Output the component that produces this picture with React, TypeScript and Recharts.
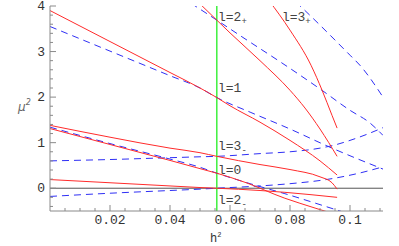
import React from "react";
import { LineChart, Line, XAxis, YAxis, ReferenceLine, ReferenceDot } from "recharts";

// red (solid) curves: h^2 values and mu^2 values
const redL1H = [0, 0.01, 0.02, 0.03, 0.04, 0.05, 0.0556, 0.06, 0.07, 0.08, 0.09, 0.0957];
const redL1Mu = [3.9, 3.56, 3.22, 2.88, 2.54, 2.2, 1.99, 1.81, 1.45, 1.05, 0.6, 0.29];
const redL2pH = [0.049, 0.0556, 0.06, 0.07, 0.08, 0.085, 0.09, 0.0957];
const redL2pMu = [4.11, 3.69, 3.41, 2.8, 2.15, 1.76, 1.3, 0.7];
const redL3pH = [0.073, 0.08, 0.087, 0.0907, 0.094, 0.0957];
const redL3pMu = [4.12, 3.47, 2.7, 2.15, 1.6, 1.32];
const redL3mH = [0, 0.02, 0.04, 0.05, 0.0556, 0.07, 0.08, 0.09, 0.094, 0.0957];
const redL3mMu = [1.38, 1.12, 0.88, 0.78, 0.7, 0.52, 0.41, 0.25, 0.12, -0.02];
const redL0H = [0, 0.02, 0.04, 0.05, 0.0556, 0.065, 0.0783, 0.0833, 0.094];
const redL0Mu = [1.31, 0.96, 0.61, 0.43, 0.33, 0.13, -0.22, -0.33, -0.55];
const redL2mH = [0, 0.02, 0.04, 0.05, 0.0556, 0.07, 0.0783, 0.0957];
const redL2mMu = [0.19, 0.12, 0.05, 0.015, 0.0, -0.05, -0.09, -0.2];

// blue (dashed) curves
const blueL1H = [0, 0.02, 0.04, 0.05, 0.0556, 0.0667, 0.0793, 0.094, 0.111];
const blueL1Mu = [3.55, 3.01, 2.47, 2.2, 1.99, 1.67, 1.32, 0.88, 0.42];
const blueL2pH = [0.047, 0.0556, 0.065, 0.0773, 0.09, 0.1, 0.1067, 0.111];
const blueL2pMu = [4.06, 3.69, 3.28, 2.75, 2.18, 1.71, 1.43, 1.16];
const blueL3pH = [0.082, 0.09, 0.1, 0.1033, 0.111];
const blueL3pMu = [4.09, 3.58, 2.92, 2.7, 2.0];
const blueL3mH = [0, 0.02, 0.04, 0.05, 0.0556, 0.07, 0.08, 0.09, 0.095, 0.1, 0.1055, 0.111];
const blueL3mMu = [0.6, 0.63, 0.67, 0.69, 0.7, 0.76, 0.8, 0.88, 0.95, 1.05, 1.18, 1.33];
const blueL0H = [0, 0.02, 0.04, 0.05, 0.0556, 0.0667, 0.0783, 0.0957, 0.1];
const blueL0Mu = [1.34, 0.98, 0.64, 0.46, 0.33, 0.1, -0.12, -0.48, -0.57];
const blueL2mH = [0, 0.02, 0.04, 0.05, 0.0556, 0.07, 0.0783, 0.0833, 0.09, 0.0957, 0.103, 0.111];
const blueL2mMu = [-0.18, -0.11, -0.05, -0.02, 0.0, 0.05, 0.09, 0.12, 0.17, 0.23, 0.33, 0.47];

const greenH = 0.0556;

// curve labels (baseline-left anchor)
const labelMain = ["l=2", "l=3", "l=1", "l=3", "l=0", "l=2"];
const labelSub = ["+", "+", "", "-", "", "-"];
const labelH = [0.056, 0.0773, 0.056, 0.056, 0.056, 0.056];
const labelMu = [3.67, 3.67, 2.12, 0.84, 0.31, -0.35];

const xMajor = [0.02, 0.04, 0.06, 0.08, 0.1];
const xTicks = [0.005, 0.01, 0.015, 0.02, 0.025, 0.03, 0.035, 0.04, 0.045, 0.05, 0.055, 0.06, 0.065, 0.07, 0.075, 0.08, 0.085, 0.09, 0.095, 0.1, 0.105, 0.11];
const yMajor = [0, 1, 2, 3, 4];
const yTicks = [-0.4, -0.2, 0, 0.2, 0.4, 0.6, 0.8, 1, 1.2, 1.4, 1.6, 1.8, 2, 2.2, 2.4, 2.6, 2.8, 3, 3.2, 3.4, 3.6, 3.8, 4];

const pts = (h: number[], mu: number[]) => h.map((v, i) => ({ h: v, mu: mu[i] }));

const redCurves = [
  pts(redL1H, redL1Mu),
  pts(redL2pH, redL2pMu),
  pts(redL3pH, redL3pMu),
  pts(redL3mH, redL3mMu),
  pts(redL0H, redL0Mu),
  pts(redL2mH, redL2mMu),
];
const blueCurves = [
  pts(blueL1H, blueL1Mu),
  pts(blueL2pH, blueL2pMu),
  pts(blueL3pH, blueL3pMu),
  pts(blueL3mH, blueL3mMu),
  pts(blueL0H, blueL0Mu),
  pts(blueL2mH, blueL2mMu),
];

const FRAME = "#8a8a8a";
const MONO = "'Liberation Mono', 'DejaVu Sans Mono', monospace";
const near = (v: number, list: number[]) => list.some((m) => Math.abs(m - v) < 1e-6);

const BottomTick = (props: any) => {
  const { x, y, payload } = props;
  const major = near(payload.value, xMajor);
  return (
    <g>
      <line x1={x} x2={x} y1={y} y2={y - (major ? 6 : 3)} stroke={FRAME} />
      {major && (
        <text x={x} y={y + 13} textAnchor="middle" fontFamily={MONO} fontSize={13} fill="#333">
          {payload.value === 0.1 ? "0.1" : payload.value.toFixed(2)}
        </text>
      )}
    </g>
  );
};

const TopTick = (props: any) => {
  const { x, y, payload } = props;
  const major = near(payload.value, xMajor);
  return <line x1={x} x2={x} y1={y} y2={y + (major ? 6 : 3)} stroke={FRAME} />;
};

const LeftTick = (props: any) => {
  const { x, y, payload } = props;
  const major = near(payload.value, yMajor);
  return (
    <g>
      <line x1={x} x2={x + (major ? 6 : 3)} y1={y} y2={y} stroke={FRAME} />
      {major && (
        <text x={x - 5} y={y + 4} textAnchor="end" fontFamily={MONO} fontSize={13} fill="#333">
          {String(payload.value)}
        </text>
      )}
    </g>
  );
};

const RightTick = (props: any) => {
  const { x, y, payload } = props;
  const major = near(payload.value, yMajor);
  return <line x1={x} x2={x - (major ? 6 : 3)} y1={y} y2={y} stroke={FRAME} />;
};

const CurveLabel = (main: string, sub: string) => (props: any) => {
  const { x, y } = props.viewBox;
  return (
    <text x={x} y={y} fontFamily={MONO} fontSize={13} fill="#444">
      {main}
      {sub && (
        <tspan fontSize={9} dy={3}>
          {sub}
        </tspan>
      )}
    </text>
  );
};

export default function App() {
  return (
    <div style={{ position: "absolute", left: 0, top: 0, width: 399, height: 246 }}>
      <LineChart width={399} height={246} margin={{ top: 6, right: 16, left: 0, bottom: 0 }}>
        <XAxis
          xAxisId="b"
          dataKey="h"
          type="number"
          domain={[0, 0.111]}
          allowDataOverflow
          ticks={xTicks}
          interval={0}
          height={35}
          tickSize={0}
          tickMargin={0}
          tick={<BottomTick />}
          tickLine={false}
          axisLine={{ stroke: FRAME }}
        />
        <XAxis
          xAxisId="t"
          orientation="top"
          dataKey="h"
          type="number"
          domain={[0, 0.111]}
          allowDataOverflow
          ticks={xTicks}
          interval={0}
          height={0}
          tickSize={0}
          tickMargin={0}
          tick={<TopTick />}
          tickLine={false}
          axisLine={{ stroke: FRAME }}
        />
        <YAxis
          yAxisId="l"
          type="number"
          domain={[-0.5, 4]}
          allowDataOverflow
          ticks={yTicks}
          interval={0}
          width={50}
          tickSize={0}
          tickMargin={0}
          tick={<LeftTick />}
          tickLine={false}
          axisLine={{ stroke: FRAME }}
        />
        <YAxis
          yAxisId="r"
          orientation="right"
          type="number"
          domain={[-0.5, 4]}
          allowDataOverflow
          ticks={yTicks}
          interval={0}
          width={0}
          tickSize={0}
          tickMargin={0}
          tick={<RightTick />}
          tickLine={false}
          axisLine={{ stroke: FRAME }}
        />
        <ReferenceLine xAxisId="b" yAxisId="l" y={0} stroke="#555" />
        <ReferenceLine xAxisId="b" yAxisId="l" x={greenH} stroke="#3ef03e" strokeWidth={1.5} />
        {blueCurves.map((d, i) => (
          <Line
            key={"b" + i}
            xAxisId="b"
            yAxisId="l"
            data={d}
            dataKey="mu"
            type="monotone"
            stroke="#2f2ff5"
            strokeWidth={1}
            strokeDasharray="7 5"
            dot={false}
            isAnimationActive={false}
          />
        ))}
        {redCurves.map((d, i) => (
          <Line
            key={"r" + i}
            xAxisId="b"
            yAxisId="l"
            data={d}
            dataKey="mu"
            type="monotone"
            stroke="#ff2b2b"
            strokeWidth={1}
            dot={false}
            isAnimationActive={false}
          />
        ))}
        {labelMain.map((m, i) => (
          <ReferenceDot
            key={"lab" + i}
            xAxisId="b"
            yAxisId="l"
            x={labelH[i]}
            y={labelMu[i]}
            r={0}
            fill="none"
            stroke="none"
            label={{ content: CurveLabel(m, labelSub[i]) }}
          />
        ))}
      </LineChart>
      <svg width={399} height={246} style={{ position: "absolute", left: 0, top: 0, pointerEvents: "none" }}>
        <text x={18} y={111} fontFamily="'DejaVu Sans', sans-serif" fontSize={12} fontStyle="italic" fill="#666">
          μ
          <tspan fontSize={8} dy={-6}>
            2
          </tspan>
        </text>
        <text x={210} y={242} fontFamily={MONO} fontSize={12} fill="#333">
          h
          <tspan fontSize={7} dy={-5}>
            2
          </tspan>
        </text>
      </svg>
    </div>
  );
}
